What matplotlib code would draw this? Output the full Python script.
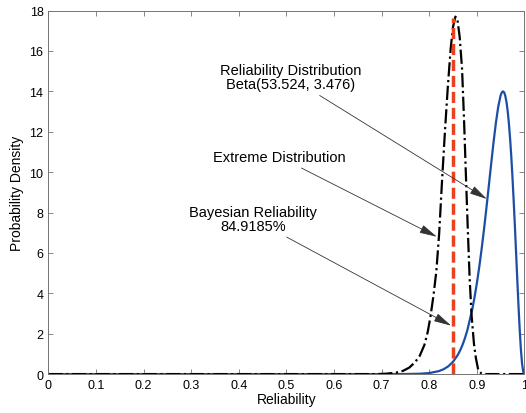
import numpy as np
import matplotlib.pyplot as plt

plt.rcParams['font.family'] = ['Liberation Sans', 'DejaVu Sans']

# Beta(53.524, 3.476) reliability density
beta_x = [0.0, 0.70, 0.75, 0.78, 0.80, 0.82, 0.83, 0.84, 0.85, 0.86, 0.865, 0.87,
          0.875, 0.88, 0.89, 0.895, 0.90, 0.905, 0.91, 0.915, 0.92, 0.925, 0.93,
          0.935, 0.94, 0.945, 0.95, 0.9525, 0.955, 0.9575, 0.96, 0.9625, 0.965,
          0.9675, 0.97, 0.9725, 0.975, 0.9775, 0.98, 0.9825, 0.985, 0.9875, 0.99,
          0.9925, 0.995, 0.9975, 1.0]
beta_y = [0.0, 0.0, 0.003, 0.017, 0.051, 0.145, 0.237, 0.383, 0.608, 0.948, 1.174, 1.447,
          1.775, 2.164, 3.158, 3.777, 4.485, 5.285, 6.174, 7.146, 8.189, 9.28, 10.38,
          11.45, 12.43, 13.24, 13.80, 13.95, 14.0, 13.95, 13.76, 13.45, 12.99,
          12.38, 11.63, 10.74, 9.70, 8.55, 7.31, 6.00, 4.68, 3.41, 2.24,
          1.25, 0.52, 0.11, 0.0]

# extreme distribution
ext_x = [0.0, 0.69, 0.71, 0.73, 0.745, 0.758, 0.77, 0.78, 0.79, 0.797, 0.803, 0.809,
         0.815, 0.821, 0.827, 0.833, 0.839, 0.845, 0.85, 0.855, 0.859, 0.864, 0.869,
         0.873, 0.877, 0.881, 0.885, 0.889, 0.894, 0.898, 0.903, 0.91, 0.92, 1.0]
ext_y = [0.0, 0.0, 0.02, 0.07, 0.16, 0.32, 0.58, 0.90, 1.45, 2.10, 2.90, 3.90,
         5.10, 7.00, 9.60, 12.0, 14.2, 16.1, 17.2, 17.7, 17.6, 16.7, 15.1,
         12.7, 9.9, 7.2, 4.7, 2.9, 1.5, 0.8, 0.2, 0.02, 0.0, 0.0]

bayes_r = 0.849185
bayes_top = 17.65

fig = plt.figure(figsize=(5.26, 4.14), dpi=100)
ax = fig.add_axes([0.092, 0.094, 0.905, 0.878])

ax.plot(beta_x, beta_y, color='#1c4ea6', lw=1.6)
ax.plot(ext_x, ext_y, color='black', lw=1.6, linestyle='-.')
ax.plot([bayes_r, bayes_r], [0, bayes_top], color='#e8431c', lw=2.5, dashes=(3.2, 1.4))

ax.set_xlim(0, 1)
ax.set_ylim(0, 18)
ax.set_xticks(np.arange(0, 1.01, 0.1))
ax.set_xticklabels(['0', '0.1', '0.2', '0.3', '0.4', '0.5', '0.6', '0.7', '0.8', '0.9', '1'])
ax.set_yticks(np.arange(0, 19, 2))
ax.tick_params(direction='in', top=True, right=True, length=3.5, width=0.6,
               colors='0.45', labelcolor='black', labelsize=9)
for s in ax.spines.values():
    s.set_color('0.45')
    s.set_linewidth(0.7)
ax.set_xlabel('Reliability', fontsize=10, labelpad=1)
ax.set_ylabel('Probability Density', fontsize=10, labelpad=4)

arrow = dict(arrowstyle='-|>,head_length=0.9,head_width=0.22', color='0.2', lw=0.6,
             mutation_scale=12, shrinkA=2, shrinkB=0)
ax.annotate('Reliability Distribution\nBeta(53.524, 3.476)', xy=(0.921, 8.67), xytext=(0.508, 14.7),
            ha='center', va='center', fontsize=10.5, arrowprops=arrow, linespacing=1.0)
ax.annotate('Extreme Distribution', xy=(0.816, 6.8), xytext=(0.486, 10.75),
            ha='center', va='center', fontsize=10.5, arrowprops=arrow)
ax.annotate('Bayesian Reliability\n84.9185%', xy=(0.846, 2.4), xytext=(0.43, 7.68),
            ha='center', va='center', fontsize=10.5, arrowprops=arrow, linespacing=1.0)

fig.savefig('out.png', dpi=100)
